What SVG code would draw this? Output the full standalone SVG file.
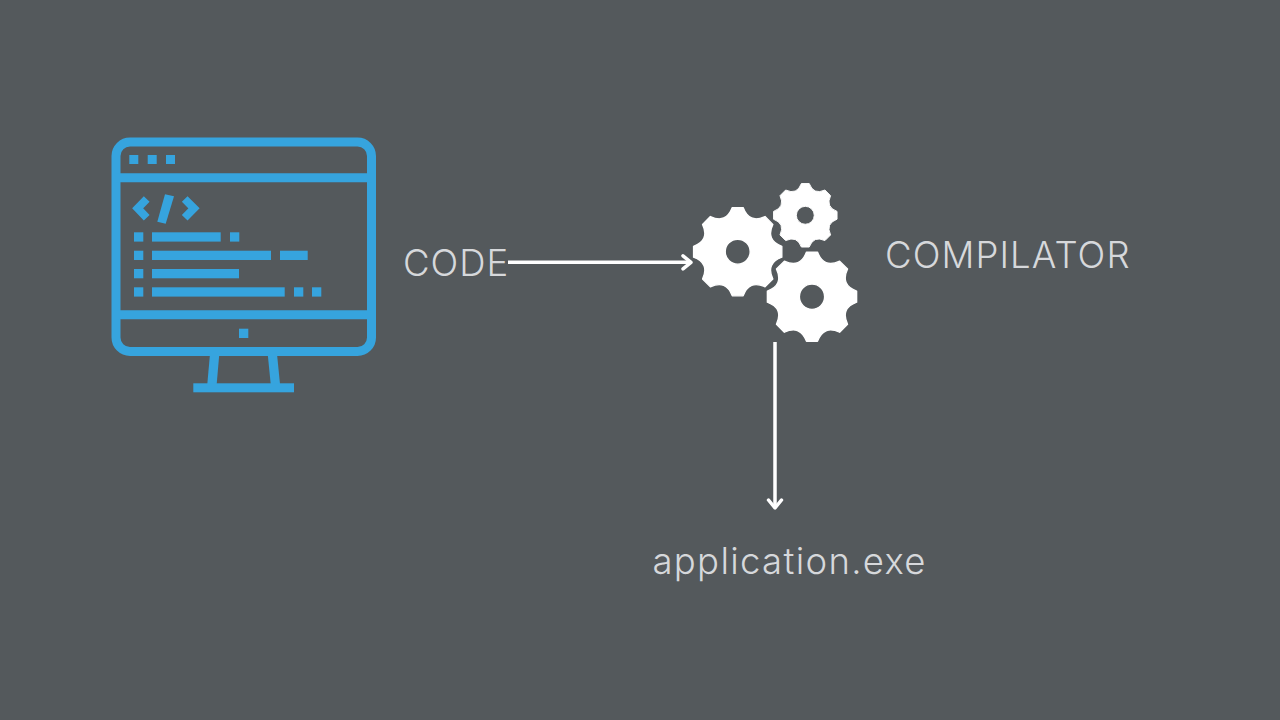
<svg xmlns="http://www.w3.org/2000/svg" width="1280" height="720" viewBox="0 0 1280 720">
<style>
.bg{fill:#54595c}
.blue{fill:#36a4de}
.ln{fill:none;stroke:#36a4de;stroke-width:9}
.gear{fill:#fff;fill-rule:evenodd;stroke:#fff;stroke-width:3;stroke-linejoin:round}
.lbl{font-family:"Inter","Open Sans","Liberation Sans",sans-serif;font-weight:300;font-size:36.500px;fill:#d6d8db}
.conn{fill:none;stroke:#fff;stroke-width:3.500}
</style>
<defs>
<marker id="arrow" markerUnits="userSpaceOnUse" markerWidth="20" markerHeight="20" refX="12" refY="10" orient="auto">
<path d="M4 3.500L12 10L4 16.500" fill="none" stroke="#fff" stroke-width="3.500" stroke-linecap="round" stroke-linejoin="round"/>
</marker>
<path id="g" d="M-12.200-99.200L12.200-99.200Q26-62.400 61.400-79L79-61.400Q62.400-26 99.200-12.200L99.200 12.200Q62.400 26 79 61.400L61.400 79Q26 62.400 12.200 99.200L-12.200 99.200Q-26 62.400-61.400 79L-79 61.400Q-62.400 26-99.200 12.200L-99.200-12.200Q-62.400-26-79-61.400L-61.400-79Q-26-62.400-12.200-99.200ZM28 0A28 28 0 1 0-28 0A28 28 0 1 0 28 0Z"/>
</defs>
<rect class="bg" width="1280" height="720"/>
<g id="monitor">
<rect class="ln" x="116" y="142" width="255.500" height="209.500" rx="14"/>
<path class="ln" d="M116 177.800H371.500M116 314.800H371.500"/>
<rect class="blue" x="129.300" y="155" width="9" height="9"/>
<rect class="blue" x="147.700" y="155" width="9" height="9"/>
<rect class="blue" x="166" y="155" width="9" height="9"/>
<path d="M146.700 199L137.700 208.300L146.700 217.700M184.700 199L194 208.300L184.700 217.700" fill="none" stroke="#36a4de" stroke-width="8"/>
<polygon class="blue" points="165,194.300 174,196.300 165.700,223.700 157.300,221.700"/>
<rect class="blue" x="134" y="232.300" width="9.300" height="9.300"/>
<rect class="blue" x="152" y="232.300" width="68.700" height="9.300"/>
<rect class="blue" x="230" y="232.300" width="9.300" height="9.300"/>
<rect class="blue" x="134" y="250.700" width="9.300" height="9.300"/>
<rect class="blue" x="152" y="250.700" width="119" height="9.300"/>
<rect class="blue" x="280" y="250.700" width="27.700" height="9.300"/>
<rect class="blue" x="134" y="269" width="9.300" height="9.300"/>
<rect class="blue" x="152" y="269" width="87" height="9.300"/>
<rect class="blue" x="134" y="287.300" width="9.300" height="9.300"/>
<rect class="blue" x="152" y="287.300" width="132.700" height="9.300"/>
<rect class="blue" x="294" y="287.300" width="9.300" height="9.300"/>
<rect class="blue" x="312" y="287.300" width="9.300" height="9.300"/>
<rect class="blue" x="239" y="328.700" width="9.300" height="9.300"/>
<polygon class="blue" points="210,354 219.300,354 216.700,384 207.300,384"/>
<polygon class="blue" points="267.700,354 277,354 280,384 270.700,384"/>
<rect class="blue" x="193.300" y="383.300" width="100.700" height="9"/>
</g>
<g id="gears">
<use href="#g" class="gear" transform="translate(737.700 251.700) scale(.445)"/>
<use href="#g" class="gear" transform="translate(805.300 215.300) scale(.32)"/>
<use href="#g" class="gear" transform="translate(812 296.700) scale(.45)"/>
</g>
<g id="connectors">
<path class="conn" d="M508 262.300H691" marker-end="url(#arrow)"/>
<path class="conn" d="M775 342V508" marker-end="url(#arrow)"/>
</g>
<g id="label-code"><text class="lbl" x="403" y="275.500" letter-spacing="1">CODE</text></g>
<g id="label-compilator"><text class="lbl" x="885" y="268" letter-spacing="1.100">COMPILATOR</text></g>
<g id="label-app"><text class="lbl" x="652.500" y="574" letter-spacing="1.300">application.exe</text></g>
</svg>
